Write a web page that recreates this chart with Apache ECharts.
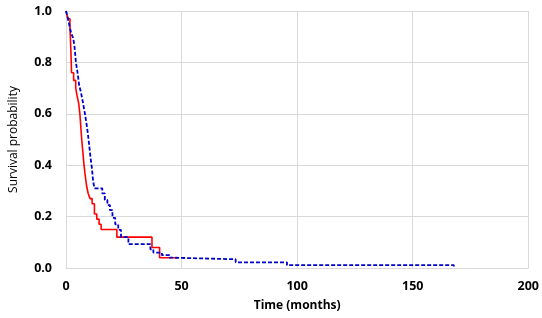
<!DOCTYPE html>
<html><head><meta charset="utf-8">
<script src="https://cdn.jsdelivr.net/npm/echarts@6/dist/echarts.min.js"></script>
<style>html,body{margin:0;padding:0;background:#fff}#c{width:542px;height:318px}</style>
</head><body><div id="c"></div>
<script>
// Red group (solid): time in months, survival probability
var redTime = [0, 0.8, 1.7, 2.1, 2.4, 3.3, 4.2, 4.8, 5.5, 6.0, 6.4, 6.8, 7.3, 7.8, 8.3, 8.9, 9.6, 10.4, 11.3, 12.3, 13.3, 14.3, 15.2, 22.0, 37.2, 40.5, 48.0];
var redSurv = [1.0, 0.97, 0.94, 0.85, 0.76, 0.73, 0.70, 0.67, 0.64, 0.60, 0.55, 0.50, 0.45, 0.40, 0.36, 0.32, 0.29, 0.27, 0.25, 0.21, 0.19, 0.17, 0.15, 0.12, 0.08, 0.04, 0.04];
// Blue group (dashed)
var blueTime = [0, 0.6, 1.2, 1.8, 2.4, 3.1, 3.7, 4.3, 5.0, 5.7, 6.3, 7.0, 7.6, 8.2, 8.9, 9.5, 10.0, 10.6, 11.2, 11.7, 12.3, 15.7, 16.8, 17.9, 19.0, 20.1, 21.3, 22.6, 23.8, 27.0, 36.5, 37.8, 41.5, 44.8, 47.0, 73.4, 95.6, 167.8];
var blueSurv = [1.0, 0.98, 0.955, 0.93, 0.91, 0.895, 0.86, 0.80, 0.76, 0.71, 0.69, 0.66, 0.63, 0.60, 0.56, 0.52, 0.48, 0.43, 0.39, 0.34, 0.31, 0.29, 0.265, 0.245, 0.225, 0.195, 0.17, 0.148, 0.12, 0.093, 0.073, 0.06, 0.05, 0.04, 0.034, 0.022, 0.011, 0.0];
var xTicks = [0, 50, 100, 150, 200];
var yTicks = [0, 0.2, 0.4, 0.6, 0.8, 1.0];

function pairs(t, s){ return t.map(function(v,i){ return [v, s[i]]; }); }
var font = '"Open Sans", "Liberation Sans", sans-serif';
var chart = echarts.init(document.getElementById('c'), null, {renderer:'canvas'});
chart.setOption({
  animation:false,
  grid:{left:64, right:12, top:11, bottom:50},
  xAxis:{type:'value', min:xTicks[0], max:xTicks[xTicks.length-1], interval:50,
    name:'Time (months)', nameLocation:'middle', nameGap:32,
    nameTextStyle:{fontFamily:font, fontWeight:'bold', fontSize:12, color:'#000'},
    axisLine:{show:true, lineStyle:{color:'#d9d9d9', width:1}},
    axisTick:{show:false},
    axisLabel:{fontFamily:font, fontWeight:'bold', fontSize:12.5, color:'#000', margin:12},
    splitLine:{show:true, lineStyle:{color:'#d9d9d9', width:1}}},
  yAxis:{type:'value', min:yTicks[0], max:yTicks[yTicks.length-1], interval:0.2,
    name:'Survival probability', nameLocation:'middle', nameGap:46,
    nameTextStyle:{fontFamily:font, fontSize:12, color:'#000'},
    axisLine:{show:true, lineStyle:{color:'#d9d9d9', width:1}},
    axisTick:{show:false},
    axisLabel:{fontFamily:font, fontWeight:'bold', fontSize:12.5, color:'#000', margin:14,
      formatter:function(v){return v.toFixed(1);}},
    splitLine:{show:true, lineStyle:{color:'#d9d9d9', width:1}}},
  series:[
    {type:'line', step:'end', data:pairs(redTime, redSurv), showSymbol:false,
      lineStyle:{color:'#ff0000', width:1.6}, z:3},
    {type:'line', step:'end', data:pairs(blueTime, blueSurv), showSymbol:false,
      lineStyle:{color:'#0000cc', width:1.8, type:[4,2]}, z:4}
  ]
});
</script></body></html>
